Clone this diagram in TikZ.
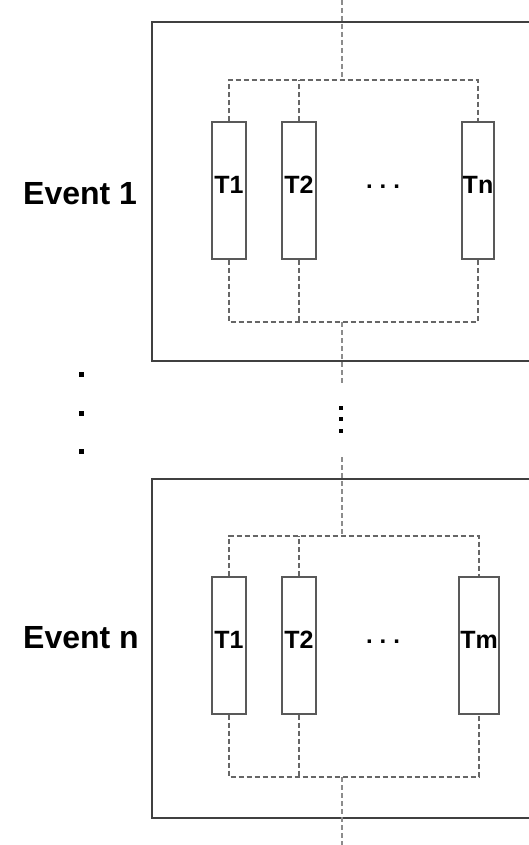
\documentclass[tikz,border=0pt]{standalone}
\usepackage{fontspec}
\setmainfont{Liberation Sans}
\begin{document}
\begin{tikzpicture}[x=1pt,y=-1pt,
  outer/.style={draw=black!75,line width=1.8pt},
  tbox/.style={draw=black!65,line width=1.2pt,fill=white,minimum width=34pt,inner sep=0pt},
  tlab/.style={font=\bfseries\fontsize{25}{27}\selectfont,inner sep=0pt},
  bus/.style={draw=black!60,line width=1.3pt,dash pattern=on 5pt off 3pt},
  spine/.style={draw=black!45,line width=1.1pt,dash pattern=on 5pt off 3pt},
  evlabel/.style={font=\bfseries\fontsize{32}{34}\selectfont,inner sep=0pt},
  hdots/.style={font=\bfseries\fontsize{24}{26}\selectfont,inner sep=0pt},
  dotn/.style={rectangle,fill=black,inner sep=0pt,minimum size=#1},
  dotn/.default=4pt]
\useasboundingbox (0,0) rectangle (529,845);
% ---------- Event 1 ----------
\draw[outer] (545,22) -- (152,22) -- (152,361) -- (545,361);
\node[tbox,minimum height=137pt] (a1) at (229,190.5) {};
\node[tbox,minimum height=137pt] (a2) at (299,190.5) {};
\node[tbox,minimum height=137pt,minimum width=32pt] (an) at (478,190.5) {};
\node[tlab] (a1l) at (229,185) {T1};
\node[tlab] (a2l) at (299,185) {T2};
\node[tlab] (anl) at (478,185) {Tn};
\node[hdots] (adots) at (383,187) {.\hspace{7pt}.\hspace{7pt}.};
\node[evlabel,anchor=west] (ev1) at (23,194) {Event 1};
\coordinate (atop) at (342,80);
\coordinate (abot) at (342,322);
\coordinate (ain) at (342,0);
\coordinate (aout) at (342,385);
\draw[bus] (a1.north) -- (a1.north |- atop) -- (an.north |- atop) -- (an.north);
\draw[bus] (a2.north) -- (a2.north |- atop);
\draw[bus] (a1.south) -- (a1.south |- abot) -- (an.south |- abot) -- (an.south);
\draw[bus] (a2.south) -- (a2.south |- abot);
\draw[spine] (ain) -- (atop);
\draw[spine] (abot) -- (aout);
% ---------- dots ----------
\node[dotn] (v1) at (341,408) {};
\node[dotn] (v2) at (341,419) {};
\node[dotn] (v3) at (341,431) {};
\node[dotn=5pt] (l1) at (81,374) {};
\node[dotn=5pt] (l2) at (81,413) {};
\node[dotn=5pt] (l3) at (81,451) {};
% ---------- Event n ----------
\coordinate (bin) at (342,457);
\draw[outer] (545,479) -- (152,479) -- (152,818) -- (545,818);
\node[tbox,minimum height=137pt] (b1) at (229,645.5) {};
\node[tbox,minimum height=137pt] (b2) at (299,645.5) {};
\node[tbox,minimum height=137pt,minimum width=40pt] (bm) at (479,645.5) {};
\node[tlab] (b1l) at (229,640) {T1};
\node[tlab] (b2l) at (299,640) {T2};
\node[tlab] (bml) at (479,640) {Tm};
\node[hdots] (bdots) at (383,642) {.\hspace{7pt}.\hspace{7pt}.};
\node[evlabel,anchor=west] (evn) at (23,638) {Event n};
\coordinate (btop) at (342,536);
\coordinate (bbot) at (342,777);
\coordinate (bout) at (342,845);
\draw[bus] (b1.north) -- (b1.north |- btop) -- (bm.north |- btop) -- (bm.north);
\draw[bus] (b2.north) -- (b2.north |- btop);
\draw[bus] (b1.south) -- (b1.south |- bbot) -- (bm.south |- bbot) -- (bm.south);
\draw[bus] (b2.south) -- (b2.south |- bbot);
\draw[spine] (bin) -- (btop);
\draw[spine] (bbot) -- (bout);
\end{tikzpicture}
\end{document}
